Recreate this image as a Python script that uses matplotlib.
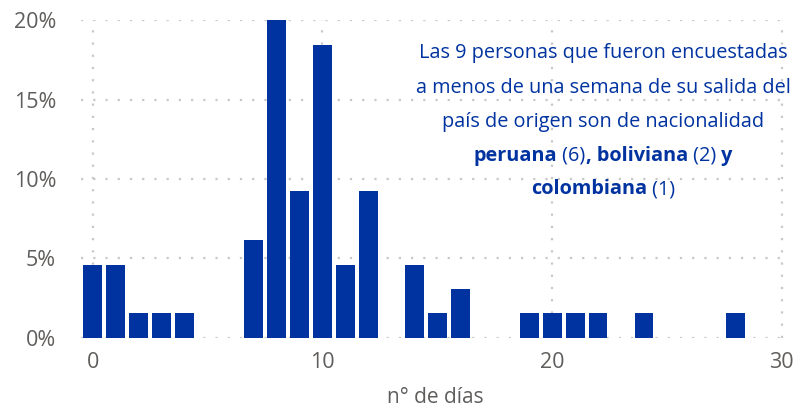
import matplotlib
matplotlib.use("Agg")
import matplotlib.pyplot as plt
from matplotlib.ticker import FuncFormatter

# días desde la salida del país de origen y número de personas (n = 65)
dias = [0, 1, 2, 3, 4, 7, 8, 9, 10, 11, 12, 14, 15, 16, 19, 20, 21, 22, 24, 28]
personas = [3, 3, 1, 1, 1, 4, 13, 6, 12, 3, 6, 3, 1, 2, 1, 1, 1, 1, 1, 1]
total = 65
pct = [p / total * 100 for p in personas]

x_ticks = [0, 10, 20, 30]
y_ticks = [0, 5, 10, 15, 20]

azul = "#0033A0"
gris = "#605E5C"

plt.rcParams['font.family'] = ['Open Sans', 'DejaVu Sans']

fig = plt.figure(figsize=(8.11, 4.11), dpi=100)
ax = fig.add_axes([0.1, 0.178, 0.874, 0.773])

ax.bar(dias, pct, width=0.82, color=azul, zorder=3)

ax.set_xlim(-0.5, 30.35)
ax.set_ylim(0, 20)
ax.set_xticks(x_ticks)
ax.set_yticks(y_ticks)
ax.yaxis.set_major_formatter(FuncFormatter(lambda v, _: f"{v:.0f}%"))
ax.tick_params(length=0, labelsize=15.5, colors=gris, pad=10)
ax.tick_params(axis='y', pad=18)
for s in ax.spines.values():
    s.set_visible(False)
ax.grid(True, color="#c8c8c8", linestyle=(0, (1, 4.5)), linewidth=1.6, zorder=0)

ax.set_xlabel("n° de días", fontsize=15, color=gris, labelpad=10)

# anotación con partes en negrita
lineas = [
    [("Las 9 personas que fueron encuestadas", "normal")],
    [("a menos de una semana de su salida del", "normal")],
    [("país de origen son de nacionalidad", "normal")],
    [("peruana", "bold"), (" (6)", "normal"), (", boliviana", "bold"),
     (" (2)", "normal"), (" y", "bold")],
    [("colombiana", "bold"), (" (1)", "normal")],
]
ys = [53, 88, 122, 156, 189]
cx = 603
fig.canvas.draw()
r = fig.canvas.get_renderer()
for partes, yp in zip(lineas, ys):
    textos = []
    anchos = []
    for s, w in partes:
        t = fig.text(0, 0, s, fontsize=14.3, fontweight=w, color=azul,
                     va='center', ha='left')
        anchos.append(t.get_window_extent(r).width)
        textos.append(t)
    x0 = cx - sum(anchos) / 2
    for t, a in zip(textos, anchos):
        t.set_position((x0 / 811, 1 - yp / 411))
        x0 += a

fig.savefig("out.png", dpi=100)
